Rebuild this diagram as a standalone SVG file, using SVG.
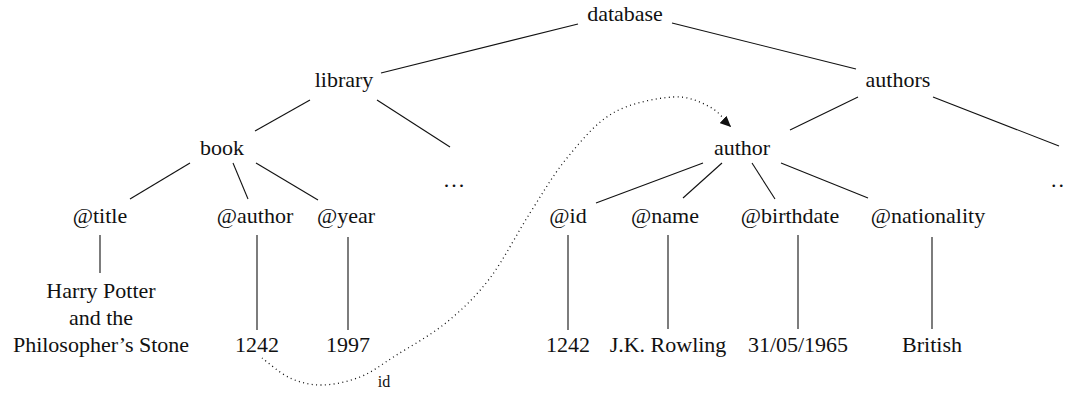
<svg xmlns="http://www.w3.org/2000/svg" width="1065" height="394" viewBox="0 0 1065 394">
<defs>
<style>
text{font-family:"Liberation Serif","DejaVu Serif",serif;font-size:22px;fill:#111;text-anchor:middle}
.e line, line.e{stroke:#111;stroke-width:1.1}
.lbl{font-size:16px}
.dots{letter-spacing:2px}
</style>
<marker id="ah" markerWidth="12" markerHeight="10" refX="11" refY="5" orient="auto" markerUnits="userSpaceOnUse">
<path d="M0,0 L11,5 L0,10 Z" fill="#111"/>
</marker>
</defs>
<rect width="1065" height="394" fill="#fff"/>
<g id="connectors" class="e">
<line x1="578" y1="24" x2="381" y2="73"/>
<line x1="672" y1="23" x2="856" y2="69"/>
<line x1="310" y1="100" x2="255" y2="131"/>
<line x1="377" y1="100" x2="450" y2="147"/>
<line x1="858" y1="97" x2="790" y2="130"/>
<line x1="933" y1="97" x2="1059" y2="146"/>
<line x1="190" y1="163" x2="130" y2="199"/>
<line x1="233" y1="163" x2="248" y2="199"/>
<line x1="256" y1="163" x2="318" y2="200"/>
<line x1="703" y1="163" x2="596" y2="203"/>
<line x1="722" y1="163" x2="683" y2="198"/>
<line x1="752" y1="163" x2="775" y2="199"/>
<line x1="781" y1="163" x2="868" y2="198"/>
<line x1="100" y1="235" x2="100" y2="273"/>
<line x1="257" y1="235" x2="257" y2="330"/>
<line x1="348" y1="237" x2="348" y2="330"/>
<line x1="568" y1="235" x2="568" y2="330"/>
<line x1="668" y1="235" x2="668" y2="329"/>
<line x1="798" y1="235" x2="798" y2="329"/>
<line x1="932" y1="237" x2="932" y2="329"/>
<path id="ref" d="M262,358 C266.7,361.3 280,373.5 290,378 C300,382.5 310.3,385.2 322,385 C333.7,384.8 347.8,381.8 360,377 C372.2,372.2 380.5,365.2 395,356 C409.5,346.8 431.2,335 447,322 C462.8,309 476.2,296.2 490,278 C503.8,259.8 517.2,233 530,213 C542.8,193 553.2,174.7 567,158 C580.8,141.3 595.3,123.2 613,113 C630.7,102.8 656.8,98 673,97 C689.2,96 700.3,102 710,107 C719.7,112 727.5,123.7 731,127" fill="none" stroke="#111" stroke-width="1.3" stroke-dasharray="1 3.4" marker-end="url(#ah)"/>
<text class="lbl" x="384" y="387">id</text>
</g>
<g id="n-database"><text x="625" y="21">database</text></g>
<g id="n-library"><text x="344" y="87">library</text></g>
<g id="n-authors"><text x="898" y="87">authors</text></g>
<g id="n-book"><text x="222" y="155">book</text></g>
<g id="n-author"><text x="742" y="155">author</text></g>
<g id="n-more1"><text class="dots" x="455" y="187">...</text></g>
<g id="n-more2"><text class="dots" x="1051" y="187" style="text-anchor:start">...</text></g>
<g id="n-title"><text x="100" y="223">@title</text></g>
<g id="n-bauthor"><text x="255" y="223">@author</text></g>
<g id="n-year"><text x="346" y="223">@year</text></g>
<g id="n-id"><text x="568" y="223">@id</text></g>
<g id="n-name"><text x="665" y="223">@name</text></g>
<g id="n-birthdate"><text x="790" y="223">@birthdate</text></g>
<g id="n-nationality"><text x="928" y="223">@nationality</text></g>
<g id="v-title"><text x="101" y="298">Harry Potter</text><text x="101" y="325">and the</text><text x="101" y="352">Philosopher’s Stone</text></g>
<g id="v-bauthor"><text x="257" y="352">1242</text></g>
<g id="v-year"><text x="348" y="352">1997</text></g>
<g id="v-id"><text x="568" y="352">1242</text></g>
<g id="v-name"><text x="668" y="352">J.K. Rowling</text></g>
<g id="v-birthdate"><text x="798" y="352">31/05/1965</text></g>
<g id="v-nationality"><text x="932" y="352">British</text></g>
</svg>
